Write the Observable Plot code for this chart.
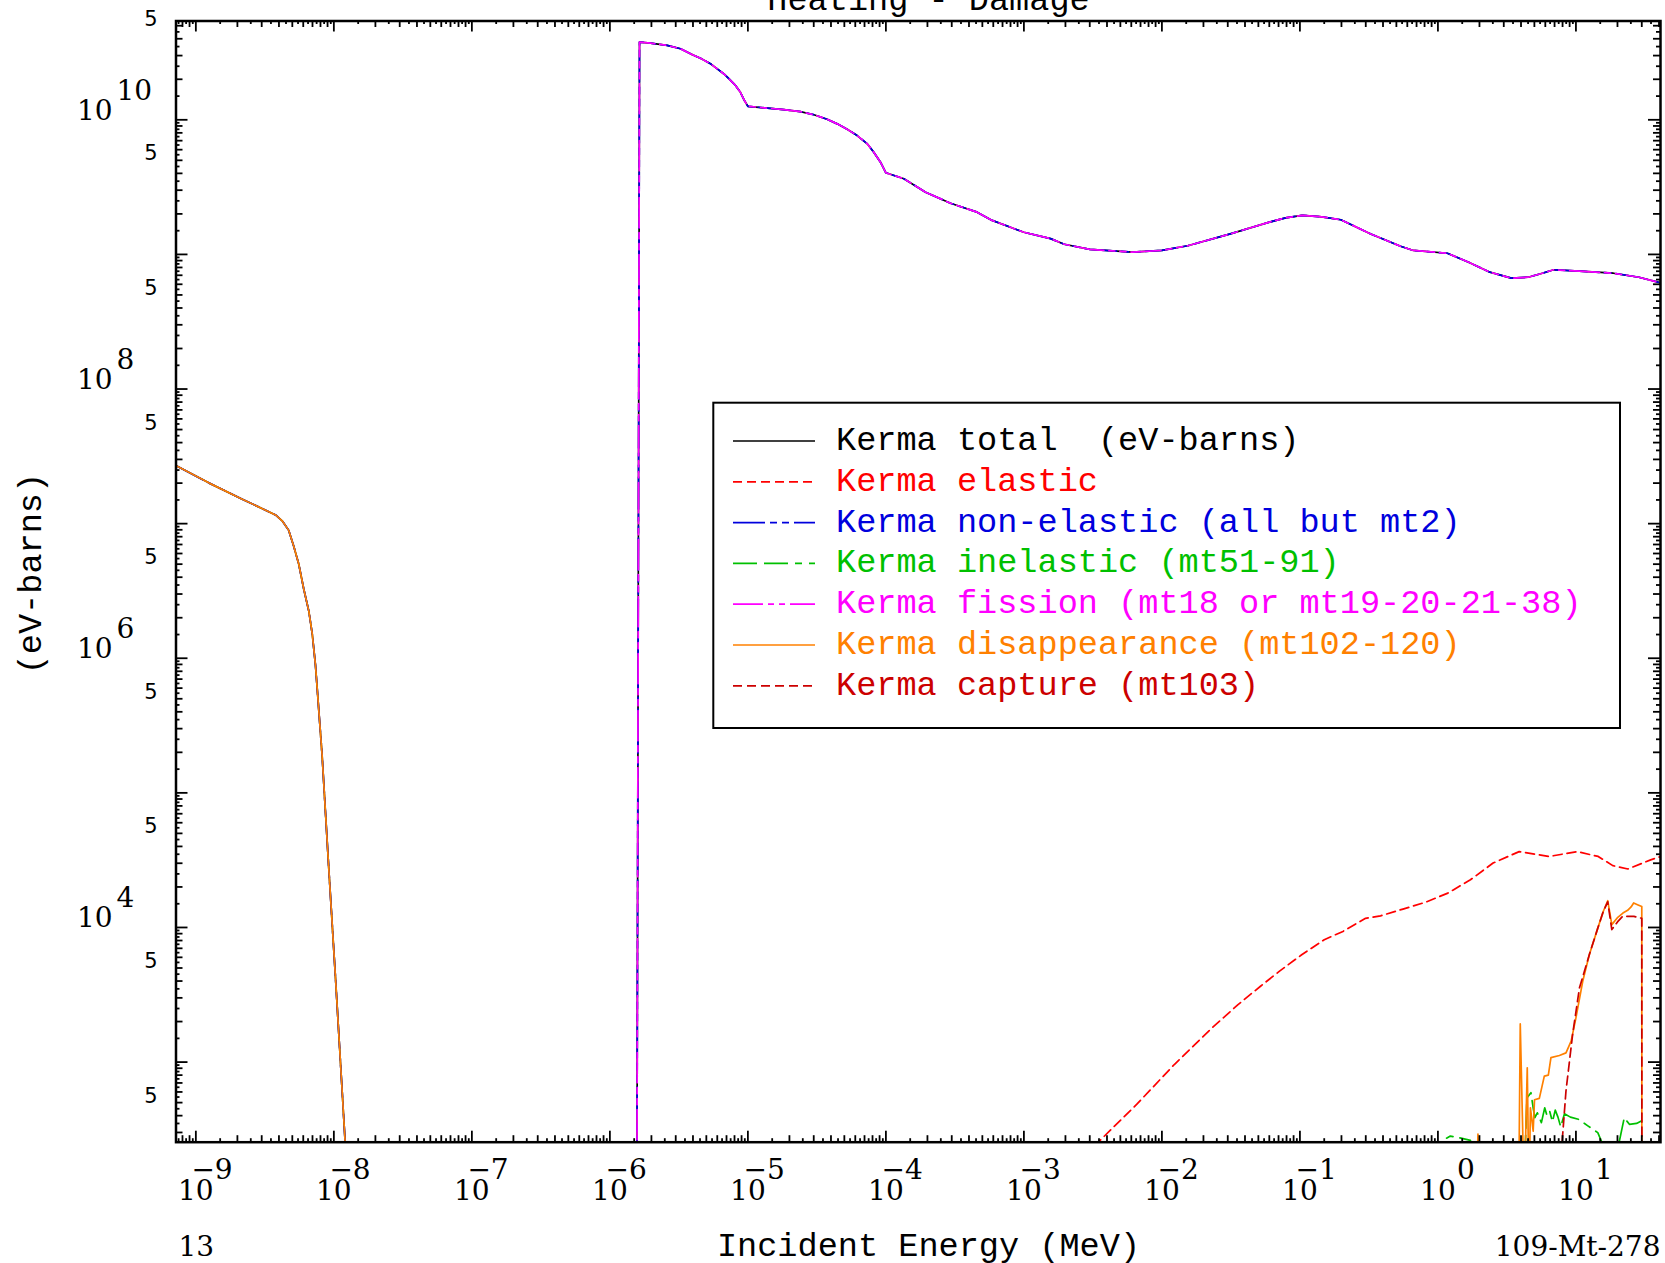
<!DOCTYPE html>
<html><head><meta charset="utf-8">
<script src="https://cdn.jsdelivr.net/npm/d3@7"></script>
<script src="https://cdn.jsdelivr.net/npm/@observablehq/plot@0.6"></script>
<style>
html,body{margin:0;padding:0;background:#fff;}
#wrap{position:relative;width:1665px;height:1263px;overflow:hidden;background:#fff;}
#wrap svg{display:block;}
#legend{position:absolute;left:0;top:0;pointer-events:none;}
</style></head><body><div id="wrap"></div>
<script>
// ---------- DATA (energy in MeV, kerma in eV-barns) ----------
// low-energy branch shared by total / non-elastic / disappearance
const lowE = [7.1e-10, 1.25e-9, 2.17e-9, 3.78e-9, 4.22e-9, 4.71e-9, 5.12e-9, 5.57e-9, 6.05e-9, 6.59e-9, 6.97e-9, 7.36e-9, 8.22e-9, 9.18e-9, 1.03e-8, 1.15e-8, 1.26e-8];
const lowV = [2.72e7, 2.00e7, 1.52e7, 1.16e7, 1.05e7, 8.91e6, 6.79e6, 4.99e6, 3.27e6, 2.23e6, 1.52e6, 8.85e5, 1.90e5, 2.78e4, 4.06e3, 594, 120];
// fission-dominated branch shared by total / non-elastic / fission
const highE = [1.57e-6, 1.64e-6, 1.97e-6, 2.60e-6, 3.25e-6, 3.84e-6, 4.53e-6, 5.36e-6, 6.0e-6, 6.68e-6, 7.28e-6, 8.13e-6, 8.83e-6, 9.44e-6, 1.0e-5, 1.82e-5, 2.40e-5, 3.01e-5, 3.75e-5, 4.44e-5, 5.24e-5, 6.19e-5, 7.33e-5, 8.17e-5, 9.14e-5, 1.0e-4, 1.35e-4, 1.94e-4, 2.94e-4, 4.58e-4, 5.89e-4, 1.0e-3, 1.56e-3, 1.96e-3, 3.01e-3, 6.11e-3, 1.0e-2, 1.54e-2, 3.13e-2, 5.93e-2, 7.87e-2, 0.104, 0.139, 0.198, 0.326, 0.536, 0.664, 1.17, 1.67, 2.38, 3.40, 4.51, 5.55, 6.90, 10.6, 18.7, 28.6, 43.6];
const highV = [100, 3.78e10, 3.71e10, 3.57e10, 3.37e10, 3.09e10, 2.87e10, 2.61e10, 2.39e10, 2.20e10, 2.02e10, 1.80e10, 1.60e10, 1.39e10, 1.26e10, 1.19e10, 1.15e10, 1.09e10, 1.01e10, 9.33e9, 8.51e9, 7.64e9, 6.63e9, 5.74e9, 4.84e9, 4.04e9, 3.65e9, 2.90e9, 2.40e9, 2.06e9, 1.79e9, 1.46e9, 1.31e9, 1.19e9, 1.09e9, 1.04e9, 1.07e9, 1.16e9, 1.42e9, 1.73e9, 1.87e9, 1.95e9, 1.91e9, 1.81e9, 1.42e9, 1.15e9, 1.07e9, 1.02e9, 8.75e8, 7.38e8, 6.66e8, 6.77e8, 7.18e8, 7.69e8, 7.51e8, 7.25e8, 6.77e8, 6.05e8];
// elastic
const elasticE = [1.0e-3, 3.63e-3, 6.56e-3, 1.23e-2, 2.30e-2, 3.56e-2, 5.18e-2, 7.08e-2, 0.103, 0.150, 0.205, 0.299, 0.384, 0.558, 0.813, 1.18, 1.72, 2.51, 3.88, 6.41, 10.2, 14.5, 18.5, 23.8, 34.8, 44.7];
const elasticV = [74, 267, 485, 959, 1790, 2670, 3660, 4720, 6270, 8110, 9350, 11700, 12200, 13700, 15400, 18000, 22600, 30100, 36600, 33700, 36600, 33700, 28800, 27200, 31800, 34600];
// inelastic
const inelasticE = [1.0, 1.05, 1.23, 1.41, 1.72, 1.9, 4.17, 4.42, 4.72, 4.90, 5.04, 5.25, 5.62, 5.94, 6.17, 6.46, 6.76, 7.08, 7.41, 7.76, 8.26, 9.12, 10.4, 12.2, 14.4, 17.0, 19.5, 20.5, 22.4, 24.4, 27.5, 30.0];
const inelasticV = [100, 258, 282, 275, 262, 100, 100, 543, 592, 457, 386, 420, 355, 457, 400, 430, 360, 440, 390, 330, 413, 390, 376, 336, 299, 200, 150, 250, 386, 345, 350, 366];
// disappearance, high-energy part (low part = lowE/lowV)
const disapE = [1.90, 1.95, 2.00, 3.85, 3.95, 4.22, 4.44, 4.57, 4.68, 4.90, 5.01, 5.43, 5.90, 6.31, 6.59, 7.59, 8.47, 9.23, 10.0, 11.2, 12.5, 14.4, 15.8, 17.0, 18.2, 20.1, 21.9, 23.7, 25.1, 26.2, 28.2, 30.0, 30.05];
const disapV = [100, 292, 100, 100, 1920, 100, 908, 100, 457, 307, 525, 537, 787, 800, 1080, 1120, 1170, 1430, 2130, 3980, 6270, 9890, 13200, 15800, 10500, 11900, 12800, 13400, 14200, 15200, 14700, 14300, 100];
// capture
const captureE = [7.59, 7.80, 8.47, 9.46, 10.6, 12.5, 14.4, 15.8, 17.0, 18.2, 20.0, 21.8, 26.3, 30.0, 30.05];
const captureV = [100, 200, 610, 1600, 3550, 6270, 9890, 13200, 15500, 9640, 11000, 12100, 12100, 11700, 100];

// series styling
const seriesNames = ["Kerma total  (eV-barns)", "Kerma elastic", "Kerma non-elastic (all but mt2)", "Kerma inelastic (mt51-91)", "Kerma fission (mt18 or mt19-20-21-38)", "Kerma disappearance (mt102-120)", "Kerma capture (mt103)"];
const seriesColors = ["#000000", "#ff0000", "#0000dd", "#00c000", "#ff00ff", "#ff8000", "#cc0000"];
const seriesDash = [null, "9,5", "32,5,7,5,7,5", "24,7,24,7,7,7", "30,5,6,5,6,5", null, "9,5"];

// axis ticks / labels
const xLabelExp = [-9, -8, -7, -6, -5, -4, -3, -2, -1, 0, 1];
const xTickDecades = [-10, -9, -8, -7, -6, -5, -4, -3, -2, -1, 0, 1];
const yTickDecades = [2, 3, 4, 5, 6, 7, 8, 9, 10];
const yLabelExp = [4, 6, 8, 10];
const yFiveExp = [2, 3, 4, 5, 6, 7, 8, 9, 10];
const intMantissas = [2, 3, 4, 5, 6, 7, 8, 9];
const halfMantissas = [1.5, 2.5, 3.5, 4.5, 5.5, 6.5, 7.5, 8.5, 9.5];

// ---------- LAYOUT ----------
const W = 1665, H = 1263;
const mT = 20.5, mB = 121.3, mL = 175.5, mR = 5;
const innerH = H - mT - mB, innerW = W - mL - mR;
const xDomain = [7.18e-10, 41];
const yDomain = [254, 5.42e10];
const MONO = "Liberation Mono";
const SERIF = "DejaVu Serif";
const SANS = "DejaVu Sans";

const zipPts = (E, V) => E.map((e, i) => ({e, v: V[i]}));
const seriesData = [
  zipPts(lowE.concat(highE), lowV.concat(highV)),      // total
  zipPts(elasticE, elasticV),                          // elastic
  zipPts(lowE.concat(highE), lowV.concat(highV)),      // non-elastic
  zipPts(inelasticE, inelasticV),                      // inelastic
  zipPts(highE, highV),                                // fission
  zipPts(lowE.concat(disapE), lowV.concat(disapV)),    // disappearance
  zipPts(captureE, captureV)                           // capture
];

const inX = v => v >= xDomain[0] && v <= xDomain[1];
const inY = v => v >= yDomain[0] && v <= yDomain[1];
const xMajor = xTickDecades.map(d => 10 ** d).filter(inX);
const xInt = xTickDecades.flatMap(d => intMantissas.map(m => m * 10 ** d)).filter(inX);
const xHalf = xTickDecades.flatMap(d => halfMantissas.map(m => m * 10 ** d)).filter(inX);
const yMajor = yTickDecades.map(d => 10 ** d).filter(inY);
const yInt = yTickDecades.flatMap(d => intMantissas.map(m => m * 10 ** d)).filter(inY);
const yHalf = yTickDecades.flatMap(d => halfMantissas.map(m => m * 10 ** d)).filter(inY);

const tickW = 1.8;
function xTicks(vals, len) {
  return [
    Plot.tickX(vals, {x: d => d, insetTop: innerH - len, stroke: "black", strokeWidth: tickW}),
    Plot.tickX(vals, {x: d => d, insetBottom: innerH - len, stroke: "black", strokeWidth: tickW})
  ];
}
function yTicks(vals, len) {
  return [
    Plot.tickY(vals, {y: d => d, insetRight: innerW - len, stroke: "black", strokeWidth: tickW}),
    Plot.tickY(vals, {y: d => d, insetLeft: innerW - len, stroke: "black", strokeWidth: tickW})
  ];
}

const lineMarks = seriesData.map((pts, i) => Plot.line(pts, {
  x: "e", y: "v", stroke: seriesColors[i], strokeWidth: 1.7,
  strokeDasharray: seriesDash[i] || undefined, clip: true
}));

const txt = {fill: "black"};
const plot = Plot.plot({
  width: W, height: H,
  marginTop: mT, marginBottom: mB, marginLeft: mL, marginRight: mR,
  x: {type: "log", domain: xDomain, axis: null},
  y: {type: "log", domain: yDomain, axis: null},
  style: {background: "white", overflow: "visible"},
  marks: [
    ...lineMarks,
    ...xTicks(xMajor, 11), ...xTicks(xInt, 6.5), ...xTicks(xHalf, 3.5),
    ...yTicks(yMajor, 12), ...yTicks(yInt, 7), ...yTicks(yHalf, 4),
    Plot.frame({stroke: "black", strokeWidth: 2.5}),
    // x tick labels
    Plot.text(xLabelExp, {x: d => 10 ** d, text: () => "10", frameAnchor: "bottom", lineAnchor: "bottom", textAnchor: "middle", dy: 57.3, fontSize: 28, fontFamily: SERIF, ...txt}),
    Plot.text(xLabelExp, {x: d => 10 ** d, text: d => String(Math.abs(d)), frameAnchor: "bottom", lineAnchor: "bottom", textAnchor: "start", dx: 19, dy: 36.3, fontSize: 28, fontFamily: SERIF, ...txt}),
    Plot.text(xLabelExp.filter(d => d < 0), {x: d => 10 ** d, text: () => "\u2212", frameAnchor: "bottom", lineAnchor: "bottom", textAnchor: "end", dx: 19, dy: 36.3, fontSize: 28, fontFamily: SERIF, ...txt}),
    // y tick labels
    Plot.text(yLabelExp, {y: d => 10 ** d, text: () => "10", frameAnchor: "left", lineAnchor: "bottom", textAnchor: "start", dx: -99, fontSize: 28, fontFamily: SERIF, ...txt}),
    Plot.text(yLabelExp, {y: d => 10 ** d, text: d => String(d), frameAnchor: "left", lineAnchor: "bottom", textAnchor: "start", dx: -59.5, dy: -20, fontSize: 28, fontFamily: SERIF, ...txt}),
    Plot.text(yFiveExp, {y: d => 5 * 10 ** d, text: () => "5", frameAnchor: "left", lineAnchor: "bottom", textAnchor: "end", dx: -18.5, fontSize: 21, fontFamily: SANS, ...txt}),
    // titles
    Plot.text(["Heating - Damage"], {frameAnchor: "top", lineAnchor: "bottom", textAnchor: "middle", dx: 10.25, dy: -11.5, fontSize: 33.6, fontFamily: MONO, ...txt}),
    Plot.text(["Incident Energy (MeV)"], {frameAnchor: "bottom", lineAnchor: "bottom", textAnchor: "middle", dx: 10.25, dy: 113.3, fontSize: 33.6, fontFamily: MONO, ...txt}),
    Plot.text(["13"], {frameAnchor: "bottom-left", lineAnchor: "bottom", textAnchor: "start", dx: 2.5, dy: 113.3, fontSize: 28, fontFamily: SERIF, ...txt}),
    Plot.text(["109-Mt-278"], {frameAnchor: "bottom-right", lineAnchor: "bottom", textAnchor: "end", dx: 0, dy: 113.3, fontSize: 28, fontFamily: SERIF, ...txt}),
    Plot.text(["(eV-barns)"], {frameAnchor: "left", lineAnchor: "bottom", textAnchor: "middle", rotate: -90, dx: -135, dy: -8, fontSize: 33.6, fontFamily: MONO, ...txt})
  ]
});
document.getElementById("wrap").appendChild(plot);

// ---------- LEGEND (overlay) ----------
const lg = d3.select("#wrap").append("svg").attr("id", "legend").attr("width", W).attr("height", H);
const box = {x: 713.3, y: 402.7, w: 906.7, h: 325.3};
lg.append("rect").attr("x", box.x).attr("y", box.y).attr("width", box.w).attr("height", box.h)
  .attr("fill", "white").attr("stroke", "black").attr("stroke-width", 2);
const row0 = 450, rowStep = 40.8;
seriesNames.forEach((name, i) => {
  const yb = row0 + i * rowStep;
  lg.append("line").attr("x1", 733).attr("x2", 815).attr("y1", yb - 9).attr("y2", yb - 9)
    .attr("stroke", seriesColors[i]).attr("stroke-width", 1.7)
    .attr("stroke-dasharray", seriesDash[i]);
  lg.append("text").attr("x", 836).attr("y", yb).attr("fill", seriesColors[i])
    .attr("font-family", MONO).attr("font-size", 33.6).style("white-space", "pre").text(name);
});
</script></body></html>
